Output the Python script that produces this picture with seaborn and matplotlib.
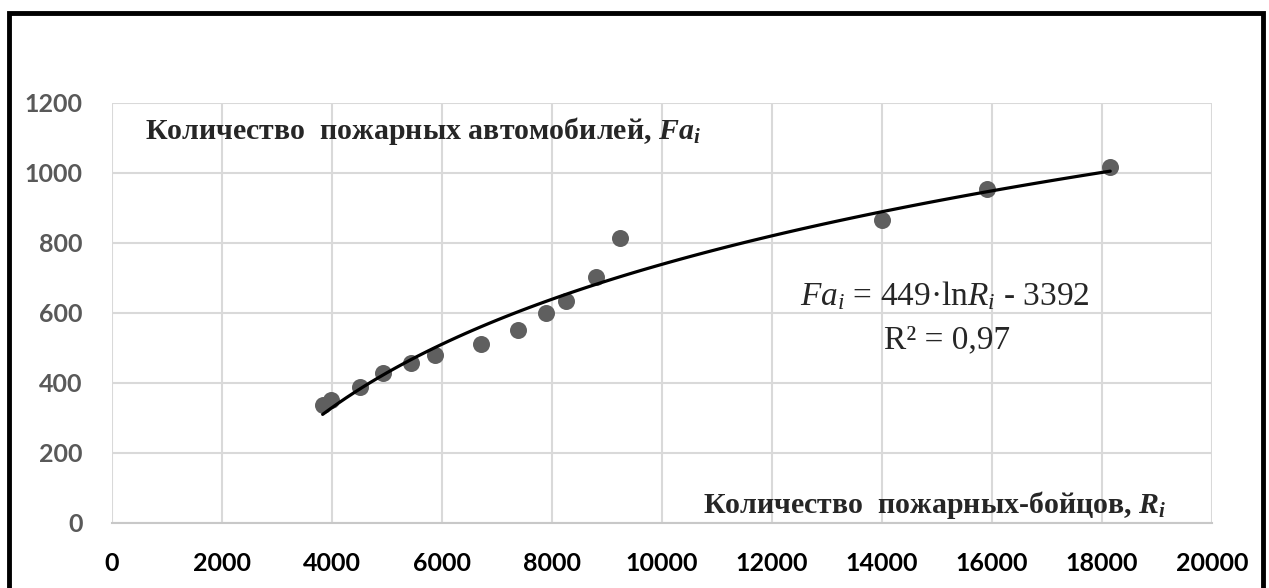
import numpy as np
import pandas as pd
import matplotlib
matplotlib.use("Agg")
import matplotlib.pyplot as plt
from matplotlib.patches import Rectangle
import seaborn as sns

# data
firefighters = [3830, 3990, 4500, 4920, 5440, 5880, 6700, 7380, 7890, 8255, 8800, 9240, 14000, 15900, 18150]
fire_trucks = [337, 352, 388, 428, 456, 480, 511, 551, 599, 635, 702, 815, 866, 953, 1016]
x_ticks = list(range(0, 20001, 2000))
y_ticks = list(range(0, 1201, 200))

title_y = r"Количество  пожарных автомобилей, $\mathbfit{Fa}_{\mathbfit{i}}$"
title_x = r"Количество  пожарных-бойцов, $\mathbfit{R}_{\mathbfit{i}}$"
eq_line1 = r"$\mathit{Fa}_{\mathit{i}}$ = 449·ln$\mathit{R}_{\mathit{i}}$ - 3392"
eq_line2 = "R² = 0,97"

df = pd.DataFrame({"R": firefighters, "Fa": fire_trucks})

sns.set_style("white")
plt.rcParams["font.family"] = ["Lato", "DejaVu Sans"]
plt.rcParams["mathtext.fontset"] = "custom"
plt.rcParams["mathtext.rm"] = "Liberation Serif"
plt.rcParams["mathtext.it"] = "Liberation Serif:italic"
plt.rcParams["mathtext.bf"] = "Liberation Serif:bold"
plt.rcParams["mathtext.bfit"] = "Liberation Serif:bold:italic"

W, H = 1269, 588
fig = plt.figure(figsize=(W / 100, H / 100), dpi=100)
ax = fig.add_axes([112 / W, 1 - 523 / H, 1100 / W, 420 / H])

sns.regplot(data=df, x="R", y="Fa", logx=True, ci=None, ax=ax,
            scatter_kws={"s": 150, "color": "#5f5f5f", "alpha": 1, "linewidths": 0, "zorder": 3},
            line_kws={"color": "black", "lw": 2.3, "zorder": 4})

ax.set_xlim(0, 20000)
ax.set_ylim(0, 1200)
ax.set_xticks(x_ticks)
ax.set_yticks(y_ticks)
ax.set_xlabel("")
ax.set_ylabel("")
ax.grid(True, color="#d9d9d9", lw=1.5, zorder=0)
ax.set_axisbelow(True)
for s in ["top", "right", "left"]:
    ax.spines[s].set_visible(False)
ax.spines["bottom"].set_color("#c8c8c8")
ax.spines["bottom"].set_linewidth(1.5)
ax.tick_params(axis="x", length=0, pad=21, labelsize=18, labelcolor="black")
ax.tick_params(axis="y", length=0, pad=21, labelsize=18, labelcolor="#595959")
for lab in ax.get_xticklabels() + ax.get_yticklabels():
    lab.set_fontweight("bold")

serif = ["Liberation Serif", "DejaVu Serif"]
fig.text(145 / W, 1 - 139 / H, title_y, family=serif, weight="bold", fontsize=21.5, va="baseline")
fig.text(703 / W, 1 - 513 / H, title_x, family=serif, weight="bold", fontsize=21.5, va="baseline")
fig.text(945 / W, 1 - 305 / H, eq_line1, family=serif, fontsize=24, ha="center", va="baseline")
fig.text(947 / W, 1 - 348 / H, eq_line2, family=serif, fontsize=24, ha="center", va="baseline")

# outer frame
fig.patches.append(Rectangle((9 / W, -0.05), 1254 / W, 1.05 - 13 / H, transform=fig.transFigure,
                             fill=False, edgecolor="black", lw=3.5))

fig.savefig("out.png", dpi=100)
